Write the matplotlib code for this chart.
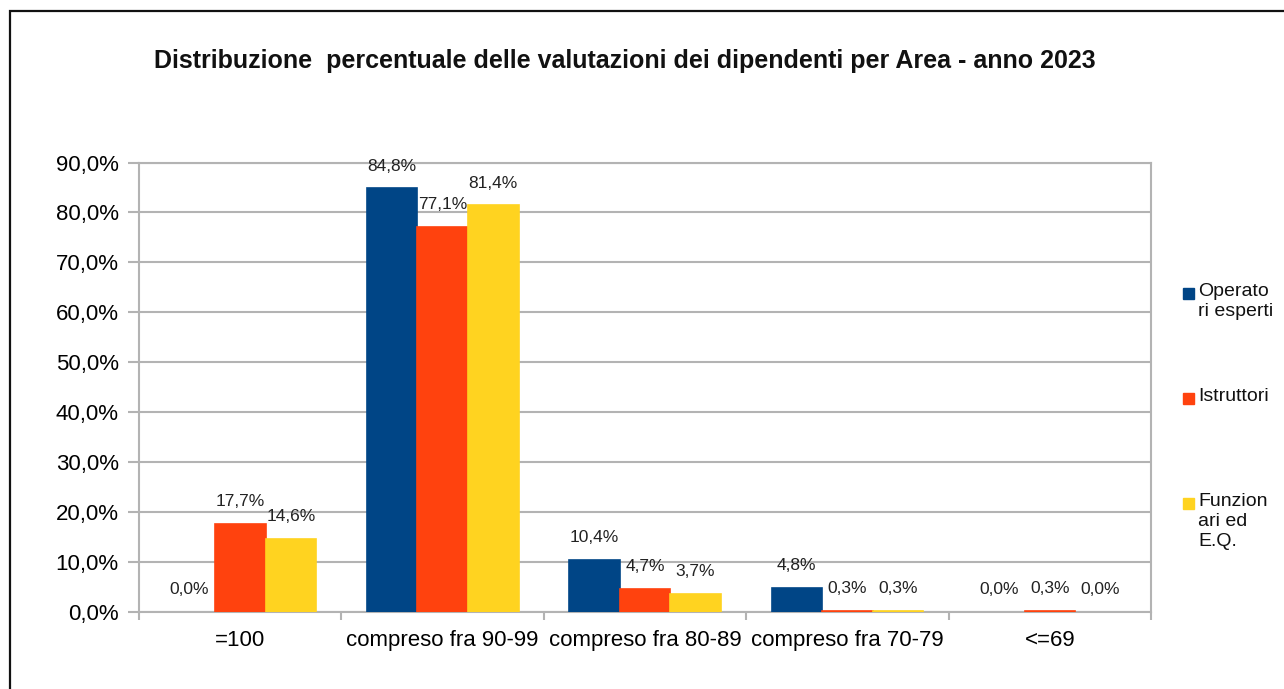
import numpy as np
import matplotlib.pyplot as plt
from matplotlib.patches import Rectangle

categories = ["=100", "compreso fra 90-99", "compreso fra 80-89",
              "compreso fra 70-79", "<=69"]
series_names = ["Operato\nri esperti", "Istruttori", "Funzion\nari ed\nE.Q."]
operatori = [0.0, 84.8, 10.4, 4.8, 0.0]
istruttori = [17.7, 77.1, 4.7, 0.3, 0.3]
funzionari = [14.6, 81.4, 3.7, 0.3, 0.0]
colors = ["#004586", "#ff420e", "#ffd320"]
title = "Distribuzione  percentuale delle valutazioni dei dipendenti per Area - anno 2023"

plt.rcParams['font.family'] = ['Liberation Sans', 'DejaVu Sans']

W, H = 1284, 689
fig = plt.figure(figsize=(W / 100, H / 100), dpi=100)
ax = fig.add_axes([139 / W, 1 - 612 / H, (1151 - 139) / W, (612 - 162.5) / H])

# outer frame (cut off right and bottom like the screenshot)
fig.patches.append(Rectangle((9.5 / W, -0.1), 1.2, 1 - 11 / H + 0.1,
                             transform=fig.transFigure, fill=False,
                             edgecolor="#111111", linewidth=1.6))

x = np.arange(len(categories))
w = 0.25
all_series = [operatori, istruttori, funzionari]
for i, (vals, col) in enumerate(zip(all_series, colors)):
    pos = x + (i - 1) * w
    # thin edge only on non-zero bars so the 0,3% slivers stay visible
    edges = [col if v > 0 else "none" for v in vals]
    ax.bar(pos, vals, width=w, color=col, edgecolor=edges, linewidth=1.2, zorder=3)
    for px, v in zip(pos, vals):
        ax.annotate(f"{v:.1f}%".replace(".", ","), (px, v),
                    xytext=(0, 10.5), textcoords="offset points",
                    ha="center", va="bottom", fontsize=12.5, color="#222222")

ax.set_xlim(-0.5, len(categories) - 0.5)
ax.set_ylim(0, 90)
yt = np.arange(0, 91, 10)
ax.set_yticks(yt)
ax.set_yticklabels([f"{v:.1f}%".replace(".", ",") for v in yt], fontsize=16)
ax.set_xticks(x)
ax.set_xticklabels(categories, fontsize=16)
ax.set_xticks(np.arange(-0.5, len(categories)), minor=True)
ax.tick_params(axis="x", which="major", length=0, pad=13)
ax.tick_params(axis="x", which="minor", length=6, width=1.5, color="#b3b3b3")
ax.tick_params(axis="y", length=8, width=1.5, color="#b3b3b3", pad=6.5)
ax.grid(axis="y", color="#b3b3b3", linewidth=1.5, zorder=0)
for s in ax.spines.values():
    s.set_color("#b3b3b3")
    s.set_linewidth(1.5)
    s.set_zorder(1)

fig.text(624.5 / W, 1 - 61 / H, title, ha="center", va="center",
         fontsize=18, fontweight="bold", color="#111111")

# legend drawn by hand to keep the wrapped labels and spacing
leg_y = [288, 393, 498]
for name, col, ty in zip(series_names, colors, leg_y):
    fig.patches.append(Rectangle((1183 / W, 1 - (ty + 11) / H), 11 / W, 11 / H,
                                 transform=fig.transFigure, color=col))
    fig.text(1198 / W, 1 - (ty - 5) / H, name, ha="left", va="top",
             fontsize=14, linespacing=1.25, color="#111111")

fig.savefig("out.png", dpi=100)
